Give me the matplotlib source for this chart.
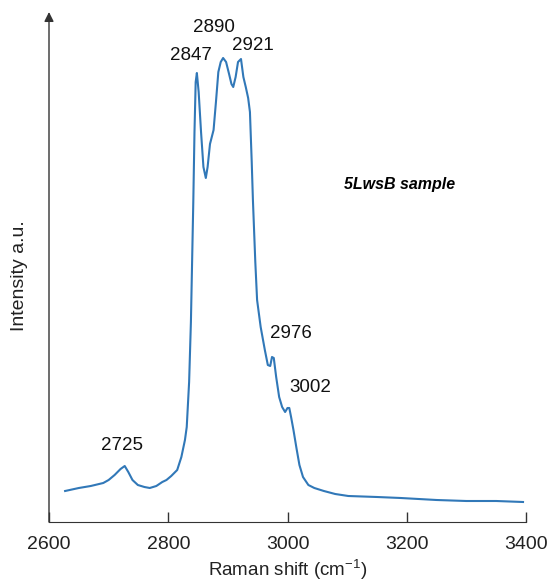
import numpy as np
import matplotlib
matplotlib.use("Agg")
import matplotlib.pyplot as plt

plt.rcParams['font.family'] = ['Liberation Sans', 'DejaVu Sans']
plt.rcParams['mathtext.fontset'] = 'custom'
plt.rcParams['mathtext.rm'] = 'Liberation Sans'

# Raman spectrum (wavenumber in cm-1, intensity in arbitrary units)
shift = [2627, 2650, 2670, 2691, 2700, 2710, 2720, 2727, 2733, 2740, 2749, 2760,
         2769, 2780, 2790, 2797, 2805, 2815, 2822, 2828, 2831, 2835, 2838, 2840,
         2842, 2844, 2846, 2848, 2851, 2855, 2859, 2863, 2866, 2870, 2873, 2876,
         2880, 2884, 2888, 2892, 2897, 2902, 2906, 2909, 2913, 2917, 2922, 2926,
         2930, 2934, 2937, 2940, 2942, 2946, 2949, 2955, 2962, 2967, 2971, 2974,
         2977, 2981, 2986, 2991, 2996, 3000, 3003, 3006, 3010, 3015, 3020, 3026,
         3035, 3045, 3061, 3080, 3102, 3150, 3190, 3250, 3300, 3350, 3395]
intensity = [31, 34, 36, 39, 42, 47, 53, 56, 50, 42, 37, 35,
             34, 36, 40, 42, 46, 52, 65, 82, 95, 140, 200, 260,
             320, 390, 440, 449, 430, 390, 355, 344, 355, 378, 385, 392,
             420, 450, 460, 464, 460, 448, 438, 435, 445, 460, 463, 445,
             435, 424, 410, 360, 322, 260, 222, 195, 172, 157, 156, 165,
             164, 145, 125, 115, 110, 114, 114, 105, 92, 74, 57, 45,
             37, 34, 31, 28, 26, 25, 24, 22, 21, 21, 20]

# peak labels and where the text sits
peak_labels = ['2725', '2847', '2890', '2921', '2976', '3002']
label_x = [2722, 2838, 2877, 2942, 3006, 3038]
label_y = [77, 467, 494, 477, 189, 135]

xticks = [2600, 2800, 3000, 3200, 3400]

fig = plt.figure(figsize=(5.47, 5.83), dpi=100)
ax = fig.add_axes([49 / 547, 1 - 522 / 583, 477 / 547, 510 / 583])

ax.plot(shift, intensity, color='#3178b8', lw=1.5)

for txt, x, y in zip(peak_labels, label_x, label_y):
    ax.text(x, y, txt, ha='center', va='center', fontsize=13.5, color='#111111')

ax.text(0.734, 0.661, '5LwsB sample', transform=ax.transAxes, fontsize=11.5,
        fontweight='bold', fontstyle='italic', ha='center', va='center')

ax.set_xlim(2600, 3400)
ax.set_ylim(0, 510)
ax.set_xticks(xticks)
ax.set_yticks([])
ax.tick_params(axis='x', direction='in', length=7, width=1, colors='#333333',
               labelcolor='#222222', labelsize=14, pad=10)

for s in ['top', 'right', 'left']:
    ax.spines[s].set_visible(False)
ax.spines['bottom'].set_color('#333333')

# y axis drawn as an arrow
ax.annotate('', xy=(0, 1), xytext=(0, 0), xycoords='axes fraction',
            arrowprops=dict(arrowstyle='-|>', color='#333333', lw=1,
                            mutation_scale=14, shrinkA=0, shrinkB=0))

ax.set_xlabel('Raman shift (cm$^{-1}$)', fontsize=13.5, color='#222222')
ax.xaxis.set_label_coords(0.5, -0.07)
ax.set_ylabel('Intensity a.u.', fontsize=14, color='#222222')
ax.yaxis.set_label_coords(-0.043, 0.484)

fig.savefig('out.png', dpi=100)
